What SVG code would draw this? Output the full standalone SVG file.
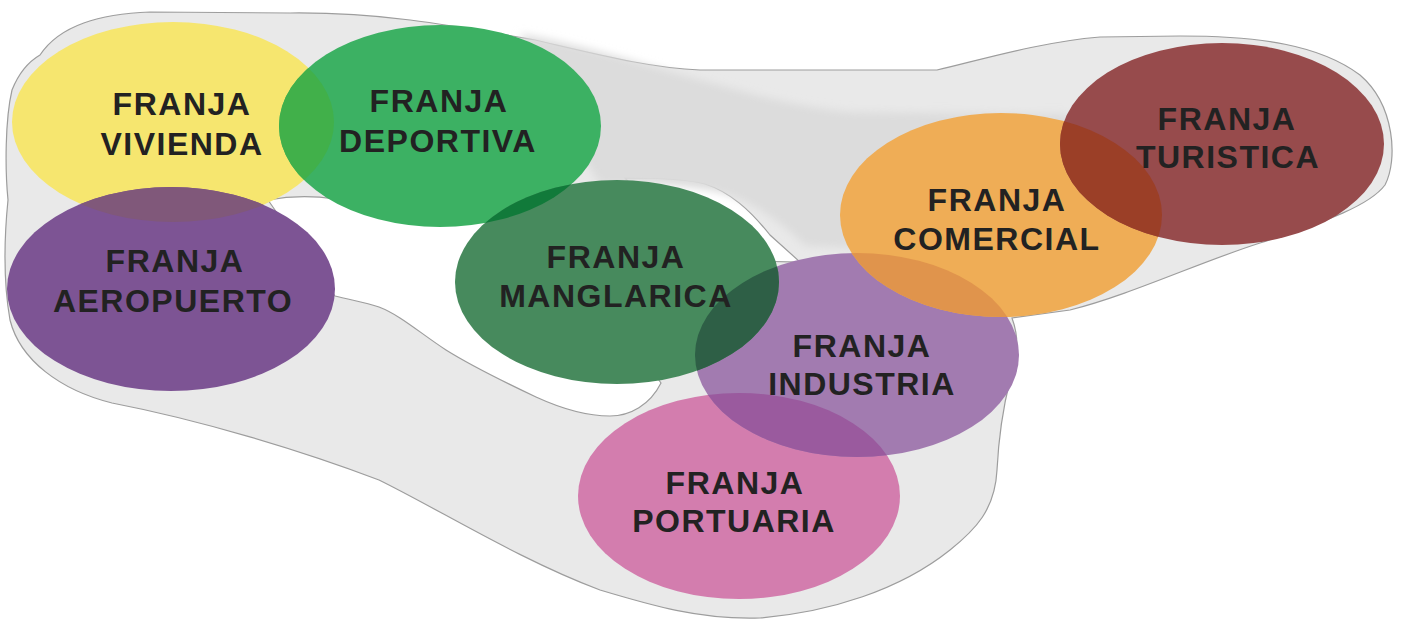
<svg xmlns="http://www.w3.org/2000/svg" width="1403" height="620" viewBox="0 0 1403 620">
<style>
.lbl{font-family:"Liberation Sans",Arial,sans-serif;font-weight:bold;font-size:32px;letter-spacing:1.5px;fill:#222;text-anchor:middle}
.blob{fill:#e9e9e9;stroke:#9d9d9d;stroke-width:1.2;fill-rule:evenodd}
</style>
<defs>
<clipPath id="cViv"><ellipse cx="173" cy="122" rx="161" ry="100"/></clipPath>
<clipPath id="cDep"><ellipse cx="440" cy="126" rx="161" ry="101"/></clipPath>
<clipPath id="cInd"><ellipse cx="857" cy="355" rx="162" ry="102"/></clipPath>
<clipPath id="cPor"><ellipse cx="739" cy="496" rx="161" ry="103"/></clipPath>
<clipPath id="cCom"><ellipse cx="1001" cy="215" rx="161" ry="102"/></clipPath>
<filter id="soft" x="-10%" y="-20%" width="120%" height="140%"><feGaussianBlur stdDeviation="4"/></filter>
</defs>
<g id="background">
<path class="blob" d="M 40,55 C 60,25 100,14 150,12 L 290,13 C 380,12 450,25 535,40 C 600,55 650,68 700,70 L 937,70 C 980,60 1040,42 1100,37 L 1180,36 C 1260,36 1320,45 1360,75 C 1395,105 1398,160 1385,185 C 1370,205 1330,220 1260,243 C 1200,262 1130,295 1070,310 L 1012,318 C 1020,340 1018,360 1010,380 C 1000,420 998,450 997,470 C 995,510 975,530 950,550 C 900,590 830,612 760,618 C 700,620 650,605 600,590 C 520,560 440,510 379,480 C 300,450 200,420 112,403 C 60,390 20,360 10,320 C 3,280 4,240 8,200 C 5,170 5,120 12,90 C 18,75 28,62 40,55 Z M 268,200 C 290,196 315,196 335,199 L 400,214 L 488,218 L 600,300 L 661,383 C 650,405 630,416 610,416 C 585,416 560,408 536,397 C 500,380 470,365 446,350 C 420,333 400,315 379,307 C 365,302 350,300 335,296 Z M 625,178 C 660,178 690,180 705,184 C 730,192 750,210 770,235 L 800,262 L 700,260 Z"/>
<path fill="#dcdcdc" filter="url(#soft)" d="M 520,34 C 580,44 640,64 700,80 C 760,96 800,108 850,112 L 1070,114 L 1080,220 L 900,250 L 806,246 C 780,222 748,196 708,190 C 670,184 640,184 600,184 L 560,120 Z"/>
</g>
<g id="vivienda">
<ellipse cx="173" cy="122" rx="161" ry="100" fill="#f6e66f"/>
<text class="lbl" x="182" y="115">FRANJA</text>
<text class="lbl" x="182" y="155">VIVIENDA</text>
</g>
<g id="aeropuerto">
<ellipse cx="171" cy="289" rx="164" ry="102" fill="#7d5494"/>
<ellipse cx="171" cy="289" rx="164" ry="102" fill="#80587a" clip-path="url(#cViv)"/>
<text class="lbl" x="175" y="272">FRANJA</text>
<text class="lbl" x="173" y="312">AEROPUERTO</text>
</g>
<g id="deportiva">
<ellipse cx="440" cy="126" rx="161" ry="101" fill="#3cb163"/>
<ellipse cx="440" cy="126" rx="161" ry="101" fill="#41b04a" clip-path="url(#cViv)"/>
<text class="lbl" x="439" y="112">FRANJA</text>
<text class="lbl" x="438" y="152">DEPORTIVA</text>
</g>
<g id="portuaria">
<ellipse cx="739" cy="496" rx="161" ry="103" fill="#d37dae"/>
<text class="lbl" x="735" y="494">FRANJA</text>
<text class="lbl" x="734" y="532">PORTUARIA</text>
</g>
<g id="industria">
<ellipse cx="857" cy="355" rx="162" ry="102" fill="#a27bb0"/>
<ellipse cx="857" cy="355" rx="162" ry="102" fill="#9a5a9e" clip-path="url(#cPor)"/>
<text class="lbl" x="862" y="357">FRANJA</text>
<text class="lbl" x="862" y="395">INDUSTRIA</text>
</g>
<g id="comercial">
<ellipse cx="1001" cy="215" rx="161" ry="102" fill="#efad56"/>
<ellipse cx="1001" cy="215" rx="161" ry="102" fill="#e0944c" clip-path="url(#cInd)"/>
<text class="lbl" x="997" y="211">FRANJA</text>
<text class="lbl" x="997" y="250">COMERCIAL</text>
</g>
<g id="manglarica">
<ellipse cx="617" cy="282" rx="162" ry="102" fill="#478a5d"/>
<ellipse cx="617" cy="282" rx="162" ry="102" fill="#117a3a" clip-path="url(#cDep)"/>
<ellipse cx="617" cy="282" rx="162" ry="102" fill="#2e5f46" clip-path="url(#cInd)"/>
<text class="lbl" x="616" y="268">FRANJA</text>
<text class="lbl" x="616" y="307">MANGLARICA</text>
</g>
<g id="turistica">
<ellipse cx="1222" cy="144" rx="162" ry="101" fill="#974b4c"/>
<ellipse cx="1222" cy="144" rx="162" ry="101" fill="#9b3f27" clip-path="url(#cCom)"/>
<text class="lbl" x="1227" y="130">FRANJA</text>
<text class="lbl" x="1228" y="168">TURISTICA</text>
</g>
<g id="connectors"></g>
</svg>
